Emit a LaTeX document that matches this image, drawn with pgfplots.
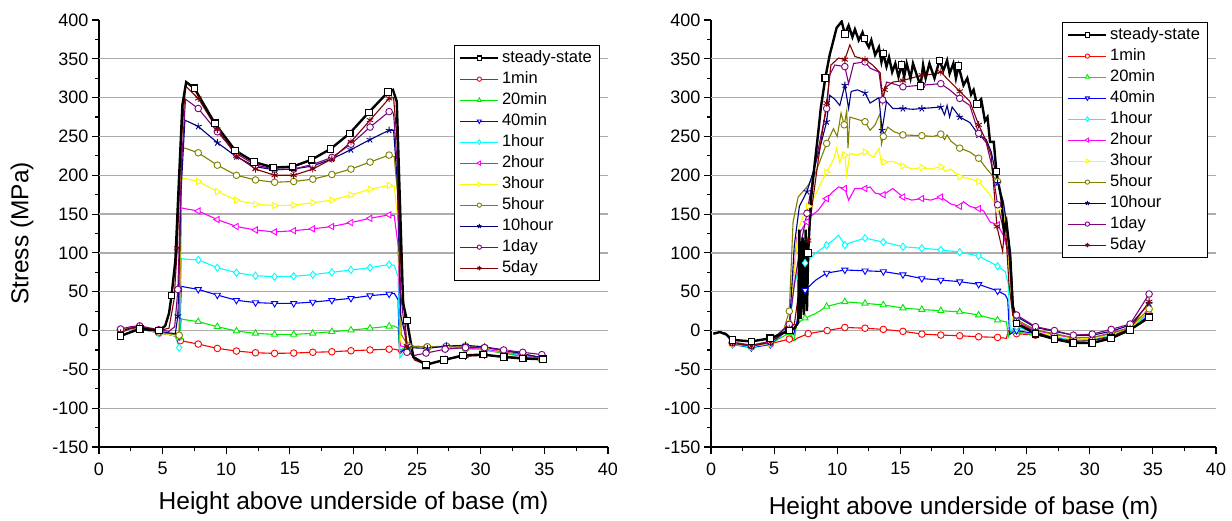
\documentclass[border=0pt]{standalone}
\usepackage{fontspec}
\setmainfont{Liberation Sans}
\usepackage{pgfplots}
\usepackage{pgfplotstable}
\pgfplotsset{compat=1.18}

\definecolor{cred}{RGB}{255,0,0}
\definecolor{cgreen}{RGB}{0,235,0}
\definecolor{cblue}{RGB}{0,0,255}
\definecolor{ccyan}{RGB}{0,255,255}
\definecolor{cmag}{RGB}{255,0,255}
\definecolor{cyel}{RGB}{250,250,0}
\definecolor{colive}{RGB}{128,128,0}
\definecolor{cnavy}{RGB}{0,0,128}
\definecolor{cpurp}{RGB}{128,0,128}
\definecolor{cwine}{RGB}{128,0,0}

% ---------- left panel (x y m: m=1 where a marker is drawn)
\pgfplotstableread{
x y m
1.7 -7 1
2.5 -2 0
3.2 2 1
4.7 0 1
5.2 6 0
5.5 22 0
5.7 45 1
6.0 90 0
6.3 200 0
6.55 290 0
6.85 320 0
7.5 312 1
9.1 267 1
10.7 232 1
12.2 217 1
13.7 210 1
15.2 211 1
16.7 220 1
18.2 234 1
19.7 254 1
21.2 281 1
22.7 307 1
23.1 310 0
23.4 295 0
23.65 165 0
23.9 35 0
24.2 13 1
24.7 -34 0
25.7 -44 1
27.1 -38 1
28.6 -32 1
30.2 -31 1
31.8 -34 1
33.3 -36 1
34.9 -37 1
}\LA
\pgfplotstableread{
x y m
1.7 1 1
2.5 2 0
3.2 2 1
4.7 -3 1
5.5 -5 0
6.0 -7 0
6.4 -13 1
7.8 -17.4 1
9.3 -23 1
10.8 -26.4 1
12.3 -28.6 1
13.8 -29.4 1
15.3 -29 1
16.8 -28 1
18.3 -27.3 1
19.8 -26 1
21.3 -25 1
22.8 -24 1
23.2 -24 0
23.5 -25 0
23.65 -30 0
24.3 -20 1
25.8 -21 1
27.3 -21 1
28.8 -23 1
30.3 -25 1
31.8 -29 1
33.3 -33 1
34.8 -37 1
}\LB
\pgfplotstableread{
x y m
1.7 1 1
2.5 3 0
3.2 3 1
4.7 -3 1
5.5 -5 0
6.0 -7 0
6.3 -8 1
6.48 15 0
6.75 14 0
7.8 11.4 1
9.3 5 1
10.8 -0.6 1
12.3 -3.6 1
13.8 -5 1
15.3 -5 1
16.8 -3.6 1
18.3 -1.5 1
19.8 0.6 1
21.3 3 1
22.8 5.5 1
23.2 6 0
23.5 3 0
23.62 -25 0
24.3 -21 1
25.8 -22 1
27.3 -21 1
28.8 -23 1
30.3 -25 1
31.8 -29 1
33.3 -33 1
34.8 -37 1
}\LC
\pgfplotstableread{
x y m
1.7 1 1
2.5 3 0
3.2 3 1
4.7 -3 1
5.5 -5 0
6.0 -7 0
6.3 -8 1
6.48 57 0
6.75 56 0
7.8 53 1
9.3 45.7 1
10.8 39 1
12.3 36 1
13.8 35 1
15.3 35 1
16.8 36.7 1
18.3 39 1
19.8 41.5 1
21.3 45 1
22.8 47 1
23.2 48 0
23.5 40 0
23.62 -28 0
24.3 -21 1
25.8 -22 1
27.3 -21 1
28.8 -22 1
30.3 -24 1
31.8 -28 1
33.3 -32 1
34.8 -36 1
}\LD
\pgfplotstableread{
x y m
1.7 1 1
2.5 2 0
3.2 2 1
4.7 -3 1
5.5 -5 0
6.0 -7 0
6.3 -22 1
6.48 93 0
6.75 92 0
7.8 91 1
9.3 81 1
10.8 74.5 1
12.3 70.6 1
13.8 69.4 1
15.3 70 1
16.8 72 1
18.3 75 1
19.8 78 1
21.3 81 1
22.8 85 1
23.2 84 0
23.5 70 0
23.65 -35 0
24.3 -21 1
25.8 -22 1
27.3 -21 1
28.8 -23 1
30.3 -25 1
31.8 -28 1
33.3 -32 1
34.8 -37 1
}\LE
\pgfplotstableread{
x y m
1.7 1 1
2.5 3 0
3.2 3 1
4.7 -3 1
5.5 -5 0
6.0 -7 0
6.3 -8 1
6.48 158 0
6.75 157 0
7.8 154 1
9.3 143 1
10.8 134 1
12.3 129.5 1
13.8 127 1
15.3 128.6 1
16.8 131 1
18.3 134 1
19.8 139 1
21.3 144.6 1
22.8 149 1
23.2 148 0
23.5 110 0
23.7 -20 0
24.3 -21 1
25.8 -22 1
27.3 -21 1
28.8 -22 1
30.3 -24 1
31.8 -27 1
33.3 -31 1
34.8 -36 1
}\LF
\pgfplotstableread{
x y m
1.7 1 1
2.5 3 0
3.2 3 1
4.7 -3 1
5.5 -5 0
6.0 -7 0
6.3 -7 1
6.48 196 0
6.75 196 0
7.8 192 1
9.3 179 1
10.8 168 1
12.3 162.6 1
13.8 161 1
15.3 161.5 1
16.8 164.7 1
18.3 168 1
19.8 174.6 1
21.3 182 1
22.8 187 1
23.2 186 0
23.5 140 0
23.72 -15 0
24.3 -21 1
25.8 -22 1
27.3 -21 1
28.8 -21 1
30.3 -23 1
31.8 -26 1
33.3 -30 1
34.8 -35 1
}\LG
\pgfplotstableread{
x y m
1.7 0 1
2.5 3 0
3.2 4 1
4.7 -2 1
5.5 -4 0
6.0 -5 0
6.3 -6 1
6.48 234 0
6.75 235 0
7.8 229 1
9.3 213 1
10.8 200 1
12.3 194 1
13.8 191 1
15.3 192 1
16.8 195 1
18.3 201 1
19.8 208 1
21.3 217 1
22.8 226 1
23.2 224 0
23.5 170 0
23.75 -5 0
24.3 -20 1
25.8 -21 1
27.3 -20 1
28.8 -20 1
30.3 -22 1
31.8 -26 1
33.3 -30 1
34.8 -35 1
}\LH
\pgfplotstableread{
x y m
1.7 0 1
2.5 3 0
3.2 4 1
4.7 -1 1
5.5 -3 0
6.0 -4 0
6.2 19 1
6.45 180 0
6.75 271 0
7.8 263 1
9.3 242 1
10.8 224 1
12.3 211 1
13.8 207 1
15.3 208 1
16.8 212 1
18.3 221 1
19.8 233 1
21.3 246 1
22.8 258 1
23.15 258 0
23.45 190 0
23.7 20 0
24.3 -22 1
25.8 -23 1
27.3 -20 1
28.8 -19 1
30.3 -21 1
31.8 -25 1
33.3 -30 1
34.8 -35 1
}\LI
\pgfplotstableread{
x y m
1.7 2 1
2.5 5 0
3.2 6 1
4.7 1 1
5.5 -1 0
5.95 5 0
6.2 53 1
6.5 220 0
6.8 298 0
7.8 286 1
9.3 256 1
10.8 228 1
12.3 213 1
13.8 208 1
15.3 208 1
16.8 214 1
18.3 223 1
19.8 240 1
21.3 262 1
22.8 282 1
23.15 280 0
23.45 210 0
23.7 50 0
24.2 -28 1
24.8 -32 0
25.7 -29 1
27.2 -24 1
28.8 -22 1
30.3 -22 1
31.8 -25 1
33.3 -28 1
34.8 -31 1
}\LJ
\pgfplotstableread{
x y m
1.7 -3 1
2.5 3 0
3.2 5 1
4.7 0 1
5.5 3 0
5.9 40 0
6.15 106 1
6.45 240 0
6.8 315 0
7.8 299 1
9.3 259 1
10.8 225 1
12.3 208 1
13.8 200 1
15.3 200 1
16.8 208 1
18.3 221 1
19.8 243 1
21.3 271 1
22.8 299 1
23.15 300 0
23.45 240 0
23.7 90 0
24.2 -20 1
24.8 -38 0
25.7 -44 1
27.2 -37 1
28.8 -33 1
30.3 -32 1
31.8 -33 1
33.3 -35 1
34.8 -37 1
}\LK

% ---------- right panel
\pgfplotstableread{
x y m
0.2 -4 0
0.7 -2 0
1.2 -5 0
1.7 -12 1
3.2 -14 1
4.7 -10 1
6.2 0 1
6.6 3 0
6.9 10 0
7.0 130 0
7.1 15 0
7.25 120 0
7.35 20 0
7.5 130 0
7.6 25 0
7.7 100 1
7.9 166 0
8.2 213 0
8.5 256 0
8.7 287 0
9.05 325 1
9.4 355 0
9.7 374 0
9.95 390 0
10.35 398 0
10.6 382 1
10.9 393 0
11.2 378 0
11.4 388 0
11.7 374 0
12.0 384 0
12.15 376 1
12.5 365 0
12.7 374 0
13.0 355 0
13.3 365 0
13.5 346 0
13.65 357 1
13.9 340 0
14.1 352 0
14.35 333 0
14.6 344 0
14.85 327 0
15.1 342 1
15.3 327 0
15.5 344 0
15.8 325 0
16.0 344 0
16.3 329 0
16.6 315 1
16.8 342 0
17.0 325 0
17.3 344 0
17.7 325 0
18.1 348 1
18.4 335 0
18.7 348 0
18.9 331 0
19.2 344 0
19.4 325 0
19.6 341 1
20.0 316 0
20.3 325 0
20.6 304 0
20.8 310 0
21.05 292 1
21.4 298 0
21.7 270 0
21.9 275 0
22.1 243 0
22.4 243 0
22.6 205 1
22.8 187 0
23.0 170 0
23.2 128 0
23.4 140 0
23.7 97 0
23.9 33 0
24.2 9 1
25.7 -4 1
27.2 -11 1
28.7 -16 1
30.2 -16 1
31.7 -10 1
33.2 1 1
34.7 17 1
}\RA
\pgfplotstableread{
x y m
0.2 -4 0
0.7 -2 0
1.2 -4 0
1.7 -17 1
3.2 -21 1
4.7 -17 1
6.2 -11 1
6.6 -13 0
6.8 -10 0
7.7 -4 1
9.2 0 1
10.6 4 1
12.2 3 1
13.65 1.5 1
15.2 -1 1
16.7 -4.5 1
18.2 -5.8 1
19.7 -6.7 1
21.2 -8 1
22.7 -8.8 1
23.4 -10 0
23.55 0 0
24.2 -4 1
25.7 -6 1
27.2 -9 1
28.7 -11 1
30.2 -10 1
31.7 -6 1
33.2 2 1
34.7 20 1
}\RB
\pgfplotstableread{
x y m
0.2 -4 0
0.7 -2 0
1.2 -4 0
1.7 -17 1
3.2 -21 1
4.7 -17 1
6.2 -3 1
6.6 -12 0
6.8 9 0
7.45 16 1
8.3 22 0
9.16 31 1
10.6 37 1
12.2 35 1
13.65 33 1
15.2 29 1
16.7 27 1
18.2 25.6 1
19.7 24 1
21.2 20 1
22.7 13.5 1
23.4 11 0
23.55 -8 0
23.7 -2 0
24.2 -1.5 1
25.7 -6 1
27.2 -8 1
28.7 -12 1
30.2 -12 1
31.7 -7 1
33.2 1 1
34.7 18 1
}\RC
\pgfplotstableread{
x y m
0.2 -4 0
0.7 -2 0
1.2 -4 0
1.7 -18 1
3.2 -22 1
4.7 -18 1
6.2 3 1
6.55 -5 0
6.9 18 0
7.45 52 1
8.3 65 0
9.16 74 1
10.6 78 1
12.2 77 1
13.65 76 1
15.2 72 1
16.7 67 1
18.2 65 1
19.7 63 1
21.2 59.5 1
22.7 51 1
23.3 46 0
23.5 40 0
23.65 -5 0
24.2 0 1
25.7 -4 1
27.2 -9 1
28.7 -12 1
30.2 -12 1
31.7 -7 1
33.2 2 1
34.7 20 1
}\RD
\pgfplotstableread{
x y m
0.2 -4 0
0.7 -2 0
1.2 -4 0
1.7 -18 1
3.2 -21 1
4.7 -17 1
6.2 4 1
6.6 60 0
6.9 75 0
7.45 87 1
8.3 100 0
9.16 110 1
9.8 118 0
10.1 123 0
10.6 110 1
11.0 113 0
12.2 119 1
13.65 114 1
15.2 108 1
16.7 106 1
18.2 104 1
19.7 101 1
21.2 96 1
22.7 83 1
23.3 76 0
23.55 60 0
23.7 0 0
24.2 5 1
25.7 -3 1
27.2 -8 1
28.7 -12 1
30.2 -11 1
31.7 -6 1
33.2 2 1
34.7 22 1
}\RE
\pgfplotstableread{
x y m
0.2 -4 0
0.7 -2 0
1.2 -4 0
1.7 -16 1
3.2 -20 1
4.7 -16 1
6.2 8 1
6.5 60 0
6.8 120 0
7.3 133 0
7.6 140 1
7.9 147 0
8.5 155 0
9.16 170 1
9.6 178 0
10.1 185 0
10.6 183 1
10.9 168 0
11.4 183 0
12.2 183 1
12.6 185 0
13.0 177 0
13.65 175 1
14.4 183 0
15.2 172 1
15.9 168 0
16.7 170 1
17.4 168 0
18.2 172 1
19.0 163 0
19.7 160 1
20.0 166 0
20.5 160 0
21.2 157 1
21.6 154 0
22.1 140 0
22.7 136 1
23.15 123 0
23.6 97 0
23.9 20 0
24.2 12 1
25.7 0 1
27.2 -5 1
28.7 -10 1
30.2 -9 1
31.7 -3 1
33.2 4 1
34.7 24 1
}\RF
\pgfplotstableread{
x y m
0.2 -4 0
0.7 -2 0
1.2 -4 0
1.7 -16 1
3.2 -20 1
4.7 -16 1
6.2 10 1
6.5 60 0
6.9 130 0
7.5 155 0
7.7 160 1
8.2 172 0
8.7 190 0
9.16 204 1
9.7 220 0
9.95 235 0
10.2 216 0
10.45 230 0
10.6 226 1
10.75 200 0
11.0 228 0
11.6 226 0
12.2 230 1
12.9 223 0
13.3 235 0
13.5 215 0
13.7 217 1
14.4 218 0
15.2 212 1
16.0 208 0
16.7 210 1
17.4 208 0
18.2 211 1
18.6 205 0
19.0 208 0
19.7 198 1
20.4 196 0
21.2 192 1
22.1 175 0
22.7 157 1
23.15 149 0
23.4 132 0
23.7 60 0
23.95 10 0
24.2 8 1
25.7 -2 1
27.2 -7 1
28.7 -11 1
30.2 -10 1
31.7 -5 1
33.2 3 1
34.7 26 1
}\RG
\pgfplotstableread{
x y m
0.2 -4 0
0.7 -2 0
1.2 -4 0
1.7 -15 1
3.2 -19 1
4.7 -14 1
5.8 3 0
6.2 25 1
6.5 140 0
6.9 172 0
7.6 185 0
8.2 200 0
9.16 241 1
9.7 260 0
10.0 250 0
10.3 280 0
10.55 265 1
10.75 283 0
10.85 235 0
11.0 275 0
11.6 272 0
12.2 269 1
12.6 258 0
13.0 265 0
13.4 280 0
13.5 240 0
13.65 250 1
14.0 262 0
14.5 256 0
15.2 252 1
16.7 251 1
17.6 250 0
18.2 253 1
18.5 246 0
18.7 252 0
19.0 244 0
19.7 235 1
20.5 230 0
21.2 222 1
21.8 209 0
22.7 192 1
23.15 166 0
23.6 106 0
23.9 30 0
24.2 14 1
25.7 1 1
27.2 -4 1
28.7 -9 1
30.2 -9 1
31.7 -4 1
33.2 4 1
34.7 28 1
}\RH
\pgfplotstableread{
x y m
0.2 -4 0
0.7 -2 0
1.2 -4 0
1.7 -16 1
3.2 -20 1
4.7 -15 1
6.2 2 1
6.6 110 0
7.0 160 0
7.6 179 1
8.2 210 0
8.7 240 0
9.16 269 1
9.4 303 0
9.8 298 0
10.2 290 0
10.6 316 1
10.9 286 0
11.1 308 0
11.6 310 0
12.2 306 1
12.6 293 0
13.3 300 0
13.55 258 1
13.9 295 0
14.4 286 0
15.2 286 1
16.0 285 0
16.7 286 1
17.5 287 0
18.2 288 1
18.5 278 0
18.7 290 0
18.9 275 0
19.1 288 0
19.7 275 1
20.5 268 0
21.2 252 1
21.8 246 0
22.2 230 0
22.7 190 1
23.15 166 0
23.4 140 0
23.7 100 0
23.95 30 0
24.2 18 1
25.7 4 1
27.2 -1 1
28.7 -6 1
30.2 -6 1
31.7 -1 1
33.2 7 1
34.7 35 1
}\RI
\pgfplotstableread{
x y m
0.2 -4 0
0.7 -2 0
1.2 -4 0
1.7 -15 1
3.2 -19 1
4.7 -14 1
6.2 8 1
6.65 65 0
7.1 110 0
7.6 151 1
8.2 210 0
8.7 250 0
9.16 286 1
9.4 329 0
9.8 342 0
10.6 340 1
10.9 318 0
11.3 344 0
12.2 346 1
12.6 338 0
13.3 333 0
13.6 297 1
13.9 320 0
14.4 318 0
15.2 314 1
16.7 316 1
18.2 318 1
18.9 310 0
19.7 299 1
20.5 290 0
21.2 254 1
21.8 242 0
22.2 215 0
22.7 162 1
23.15 131 0
23.6 97 0
23.9 30 0
24.2 20 1
25.7 5 1
27.2 0 1
28.7 -6 1
30.2 -4.5 1
31.7 1.5 1
33.2 8.4 1
34.7 47 1
}\RJ
\pgfplotstableread{
x y m
0.2 -4 0
0.7 -2 0
1.2 -4 0
1.7 -16 1
3.2 -20 1
4.7 -15 1
6.2 3 1
6.6 8 0
6.9 43 0
7.3 90 0
7.7 116 1
8.0 160 0
8.5 220 0
9.16 293 1
9.5 342 0
10.1 351 0
10.6 349 1
11.0 368 0
11.4 353 0
12.2 349 1
12.8 342 0
13.4 332 0
13.6 295 0
13.75 310 1
13.9 314 0
14.4 320 0
15.2 322 1
16.7 329 1
17.5 330 0
18.2 333 1
18.9 321 0
19.7 308 1
20.5 295 0
21.2 265 1
21.8 244 0
22.2 225 0
22.65 134 1
23.1 102 0
23.3 140 0
23.6 60 0
23.9 20 0
24.2 10 1
25.7 -1.5 1
27.2 -10 1
28.7 -14 1
30.2 -13 1
31.7 -8 1
33.2 3 1
34.7 37 1
}\RK

\pgfplotsset{
  sA/.style={black, line width=2.4pt, mark=square*, mark size=3.3pt,
    mark options={solid, fill=white, line width=1.1pt}},
  sB/.style={cred, line width=1.1pt, mark=*, mark size=3.3pt,
    mark options={solid, fill=white, line width=0.9pt}},
  sC/.style={cgreen, line width=1.1pt, mark=triangle*, mark size=3.6pt,
    mark options={solid, fill=white, line width=0.9pt}},
  sD/.style={cblue, line width=1.1pt, mark=triangle*, mark size=3.6pt,
    mark options={solid, fill=white, line width=0.9pt, rotate=180}},
  sE/.style={ccyan, line width=1.1pt, mark=diamond*, mark size=3.6pt,
    mark options={solid, fill=white, line width=0.9pt}},
  sF/.style={cmag, line width=1.1pt, mark=triangle*, mark size=3.6pt,
    mark options={solid, fill=white, line width=0.9pt, rotate=90}},
  sG/.style={cyel, line width=1.1pt, mark=triangle*, mark size=3.6pt,
    mark options={solid, fill=white, line width=0.9pt, rotate=-90}},
  sH/.style={colive, line width=1.1pt, mark=*, mark size=3.3pt,
    mark options={solid, fill=white, line width=0.9pt}},
  sI/.style={cnavy, line width=1.1pt, mark=star, mark size=3.6pt,
    mark options={solid, line width=0.9pt}},
  sJ/.style={cpurp, line width=1.1pt, mark=*, mark size=3.3pt,
    mark options={solid, fill=white, line width=0.9pt}},
  sK/.style={cwine, line width=1.1pt, mark=asterisk, mark size=3.6pt,
    mark options={solid, line width=0.9pt}},
  base/.style={
    scale only axis, height=427pt,
    xmin=0, xmax=40, ymin=-150, ymax=400,
    xtick={0,5,...,40}, ytick={-150,-100,...,400},
    minor x tick num=1, minor y tick num=1,
    axis lines*=left, axis line style={line width=1.6pt},
    tick align=outside, major tick length=7pt, minor tick length=4pt,
    tick style={black, line width=1.1pt},
    ticklabel style={font=\fontsize{18}{18}\selectfont},
    xticklabel style={yshift=-5pt},
    /pgf/number format/assume math mode=true,
    extra y ticks={-100,-50,0,50,100,150,200,250,300,350},
    extra y tick labels={},
    extra y tick style={grid=major},
    major grid style={gray!65, line width=1.3pt},
    label style={font=\fontsize{24.5}{24.5}\selectfont},
    legend cell align=left,
    legend image code/.code={\draw[mark repeat=2, mark phase=2,
      every mark/.append style={scale=0.65}]
      plot coordinates {(0pt,0pt) (19pt,0pt) (38pt,0pt)};},
    legend style={anchor=north east, draw=black, line width=0.9pt, fill=white,
      inner xsep=5pt, font=\fontsize{16.5}{16.5}\selectfont,
      nodes={text height=12pt, text depth=4pt, inner sep=2.5pt}},
  },
}
\newcommand\ser[2]{%
  \addplot[#1, mark=none, forget plot] table {#2};
  \addplot[#1, only marks, forget plot, restrict expr to domain={\thisrow{m}}{0.5:1.5}] table {#2};
}
\newcommand\leg{%
  \addlegendimage{sA}\addlegendentry{steady-state}
  \addlegendimage{sB}\addlegendentry{1min}
  \addlegendimage{sC}\addlegendentry{20min}
  \addlegendimage{sD}\addlegendentry{40min}
  \addlegendimage{sE}\addlegendentry{1hour}
  \addlegendimage{sF}\addlegendentry{2hour}
  \addlegendimage{sG}\addlegendentry{3hour}
  \addlegendimage{sH}\addlegendentry{5hour}
  \addlegendimage{sI}\addlegendentry{10hour}
  \addlegendimage{sJ}\addlegendentry{1day}
  \addlegendimage{sK}\addlegendentry{5day}
}

\begin{document}
\begin{tikzpicture}
\useasboundingbox (0,0) rectangle (1232pt,520pt);
\begin{axis}[base, width=509pt, at={(99pt,73pt)}, anchor=south west,
  xlabel={Height above underside of base (m)},
  ylabel={Stress (MPa)},
  xlabel style={at={(axis description cs:0.5,-0.131)}, anchor=center},
  ylabel style={at={(axis description cs:-0.151,0.5)}, anchor=center},
  legend style={at={(0.984,0.941)}}]
  \ser{sB}{\LB}
  \ser{sC}{\LC}
  \ser{sD}{\LD}
  \ser{sE}{\LE}
  \ser{sF}{\LF}
  \ser{sG}{\LG}
  \ser{sH}{\LH}
  \ser{sI}{\LI}
  \ser{sJ}{\LJ}
  \ser{sK}{\LK}
  \ser{sA}{\LA}
  \leg
\end{axis}
\begin{axis}[base, width=505pt, at={(711pt,73pt)}, anchor=south west,
  xlabel={Height above underside of base (m)},
  xlabel style={at={(axis description cs:0.5,-0.143)}, anchor=center},
  legend style={at={(0.984,0.995)}}]
  \ser{sB}{\RB}
  \ser{sC}{\RC}
  \ser{sD}{\RD}
  \ser{sE}{\RE}
  \ser{sF}{\RF}
  \ser{sG}{\RG}
  \ser{sH}{\RH}
  \ser{sI}{\RI}
  \ser{sJ}{\RJ}
  \ser{sK}{\RK}
  \ser{sA}{\RA}
  \leg
\end{axis}
\end{tikzpicture}
\end{document}
